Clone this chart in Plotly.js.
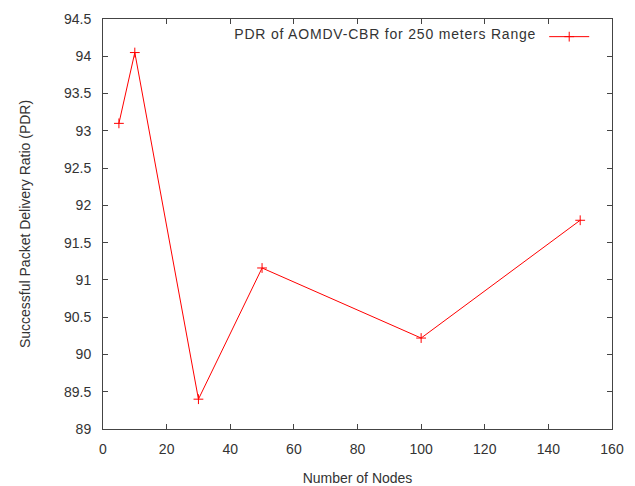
<!DOCTYPE html>
<html>
<head>
<meta charset="utf-8">
<script src="https://cdn.plot.ly/plotly-3.0.1.min.js"></script>
<style>
html,body{margin:0;padding:0;background:#fff;}
#chart{width:635px;height:486px;}
.legendtitletext{letter-spacing:0.8px;}
</style>
</head>
<body>
<div id="chart"></div>
<script>
var nodes = [5, 10, 30, 50, 100, 150];
var pdr = [93.1, 94.05, 89.4, 91.16, 90.22, 91.8];
var seriesName = "PDR of AOMDV-CBR for 250 meters Range";
var xTicks = [0, 20, 40, 60, 80, 100, 120, 140, 160];
var yTicks = [89, 89.5, 90, 90.5, 91, 91.5, 92, 92.5, 93, 93.5, 94, 94.5];

var font = {family: "Liberation Sans, Arial, sans-serif", size: 14, color: "#333"};
var axisColor = "#444";

var trace = {
  x: nodes, y: pdr, type: "scatter", mode: "lines+markers", name: "",
  line: {color: "#ff0000", width: 1},
  marker: {symbol: "cross-thin", size: 7, color: "#ff0000", line: {color: "#ff0000", width: 1}}
};
// invisible twin on the overlay axes so that their inside tick marks are drawn
var tickHolder = {
  x: nodes, y: pdr, type: "scatter", mode: "markers", xaxis: "x2", yaxis: "y2",
  showlegend: false, hoverinfo: "skip", marker: {opacity: 0}
};

var layout = {
  width: 635, height: 486,
  margin: {l: 103, r: 23, t: 19, b: 57},
  paper_bgcolor: "#fff", plot_bgcolor: "#fff",
  font: font,
  showlegend: true,
  legend: {
    x: 0.975, xanchor: "right", y: 0.995, yanchor: "top",
    bgcolor: "rgba(0,0,0,0)",
    title: {text: seriesName, side: "left", font: font},
    font: font, itemwidth: 40
  },
  xaxis: {
    range: [0, 160], tickvals: xTicks, ticktext: xTicks.map(String),
    showgrid: false, zeroline: false, showline: true, mirror: true,
    linecolor: axisColor, linewidth: 1,
    ticks: "outside", ticklen: 7, tickcolor: "rgba(0,0,0,0)", tickfont: font,
    title: {text: "Number of Nodes", font: font, standoff: 17}
  },
  yaxis: {
    range: [89, 94.5], tickvals: yTicks, ticktext: yTicks.map(String),
    showgrid: false, zeroline: false, showline: true, mirror: true,
    linecolor: axisColor, linewidth: 1,
    ticks: "outside", ticklen: 8, tickcolor: "rgba(0,0,0,0)", tickfont: font,
    title: {text: "Successful Packet Delivery Ratio (PDR)", font: font, standoff: 30}
  },
  xaxis2: {
    overlaying: "x", anchor: "y2", side: "bottom", range: [0, 160],
    tickvals: xTicks, showticklabels: false,
    showgrid: false, zeroline: false, showline: false, mirror: "ticks",
    ticks: "inside", ticklen: 5, tickcolor: axisColor, tickwidth: 1
  },
  yaxis2: {
    overlaying: "y", anchor: "x2", side: "left", range: [89, 94.5],
    tickvals: yTicks, showticklabels: false,
    showgrid: false, zeroline: false, showline: false, mirror: "ticks",
    ticks: "inside", ticklen: 5, tickcolor: axisColor, tickwidth: 1
  }
};

Plotly.newPlot("chart", [trace, tickHolder], layout, {displayModeBar: false, staticPlot: true});
</script>
</body>
</html>
